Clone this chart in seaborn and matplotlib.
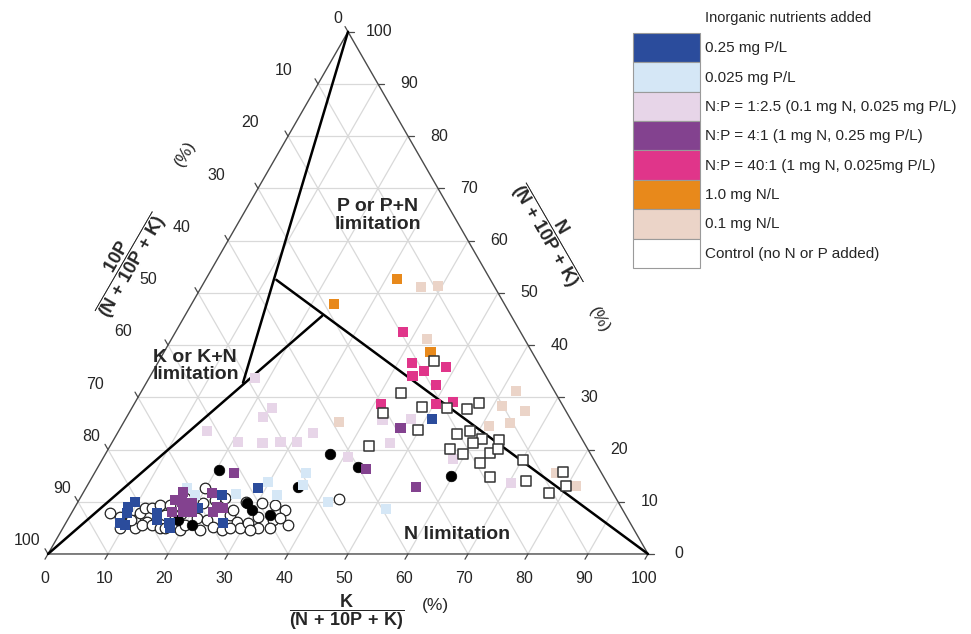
import numpy as np
import pandas as pd
import matplotlib
matplotlib.use("Agg")
import matplotlib.pyplot as plt
from matplotlib.patches import Patch
import seaborn as sns

# ============================================================
# DATA : K and N in %, 10P = 100 - K - N
# ============================================================

# 0.25 mg P/L
p25_k = [51.0, 28.7, 23.3, 20.6, 26.2, 9.5, 9.2, 9.0, 10.0, 14.2, 14.9, 17.3, 17.8, 8.8]
p25_n = [25.9, 12.6, 11.3, 8.8, 5.9, 10.0, 7.9, 5.9, 5.6, 7.9, 6.5, 5.9, 5.0, 9.0]

# 0.025 mg P/L
p025_k = [16.9, 18.9, 25.6, 29.8, 32.5, 35.3, 35.9, 41.7, 52.0]
p025_n = [12.6, 11.3, 11.5, 13.8, 11.3, 15.5, 13.2, 10.0, 8.6]

# N:P = 1:2.5
np125_k = [17.6, 23.3, 22.7, 14.7, 20.9, 25.1, 28.0, 30.7, 32.6, 40.7, 42.9, 47.5, 46.3, 70.4, 58.4]
np125_n = [33.7, 28.0, 26.2, 23.6, 21.5, 21.3, 21.5, 21.5, 23.2, 18.6, 25.7, 25.9, 21.3, 13.6, 18.2]

# N:P = 4:1
np4_k = [46.7, 44.8, 54.9, 23.2, 16.0, 17.3, 16.7, 18.5, 20.0, 19.1, 21.5, 23.7, 24.8, 23.5, 16.6]
np4_n = [24.1, 16.3, 12.8, 15.5, 10.3, 10.0, 8.0, 8.0, 8.0, 9.8, 11.7, 9.0, 8.8, 8.0, 11.9]

# N:P = 40:1
np40_k = [37.9, 42.4, 45.1, 48.4, 43.7, 48.5, 41.1, 50.3, 52.9]
np40_n = [42.5, 36.6, 35.1, 35.8, 34.1, 32.4, 28.7, 28.7, 29.1]

# 1.0 mg N/L
n10_k = [31.8, 23.7, 44.4]
n10_n = [52.7, 47.9, 38.7]

# 0.1 mg N/L
n01_k = [36.6, 39.3, 42.6, 62.4, 61.5, 65.8, 61.2, 64.4, 77.0, 81.5, 35.8]
n01_n = [51.1, 51.3, 41.2, 31.2, 28.4, 27.4, 24.5, 25.1, 15.5, 13.0, 25.3]

# Control (open squares)
ctrl_k = [45.8, 43.4, 42.3, 48.2, 52.5, 55.9, 57.3, 58.5, 56.7, 61.3, 64.3, 60.1, 56.9,
          59.6, 64.0, 64.9, 63.3, 70.2, 66.3, 72.7, 77.9, 79.8, 77.6, 43.1, 49.8]
ctrl_n = [37.0, 30.8, 27.0, 28.2, 28.0, 27.8, 28.9, 23.6, 23.0, 22.0, 21.8, 21.3, 20.1,
          19.2, 19.3, 20.1, 17.4, 18.0, 14.8, 14.0, 15.7, 13.0, 11.7, 20.7, 23.8]

# open circles
ocirc_k = [6.4, 11.3, 11.4, 11.8, 12.9, 13.5, 12.0, 12.9, 14.5, 14.0, 15.8, 16.2, 19.7, 17.5,
           19.9, 20.9, 21.4, 23.3, 24.9, 26.6, 26.6, 28.5, 29.5, 30.3, 31.5, 32.5, 30.8, 34.3,
           35.3, 37.2, 24.2, 22.7, 19.2, 8.5, 10.5, 15.6, 23.0, 26.7, 31.4, 34.5, 35.2, 33.1,
           43.3, 9.5, 17.0, 20.0, 27.8, 18.3, 28.0]
ocirc_n = [7.9, 6.5, 7.9, 8.8, 8.8, 6.1, 5.0, 5.6, 5.6, 9.4, 7.5, 5.0, 4.6, 10.7,
           12.6, 9.8, 6.9, 6.5, 5.2, 7.5, 8.4, 6.1, 5.0, 5.9, 7.1, 5.0, 9.8, 6.5,
           8.4, 5.6, 10.7, 10.3, 9.0, 7.1, 6.5, 9.4, 4.6, 4.6, 4.6, 5.0, 6.9, 9.4,
           10.5, 5.0, 5.0, 5.6, 5.0, 7.6, 9.9]

# black circles
bcirc_k = [20.4, 37.4, 43.3, 59.7, 35.3, 28.3, 29.8, 33.2, 18.4, 21.2]
bcirc_n = [16.1, 19.2, 16.7, 14.9, 12.8, 9.8, 8.4, 7.5, 6.5, 5.6]

# limitation boundaries (K, N)
b1_k, b1_n = [0, 16.1], [100, 32.8]
b2_k, b2_n = [0, 22.9], [0, 45.6]
b3_k, b3_n = [11.8, 100], [52.5, 0]

ticks = list(range(0, 101, 10))

legend_labels = [
    "0.25 mg P/L",
    "0.025 mg P/L",
    "N:P = 1:2.5 (0.1 mg N, 0.025 mg P/L)",
    "N:P = 4:1 (1 mg N, 0.25 mg P/L)",
    "N:P = 40:1 (1 mg N, 0.025mg P/L)",
    "1.0 mg N/L",
    "0.1 mg N/L",
    "Control (no N or P added)",
]
legend_colors = ["#2b4c9c", "#d5e7f6", "#e7d5e8", "#83428f", "#e0358a",
                 "#e8891b", "#ebd4c8", "#ffffff"]

# ============================================================
# STYLE
# ============================================================
sns.set_theme(style="white")
plt.rcParams["font.family"] = ["Liberation Sans", "DejaVu Sans"]
plt.rcParams["mathtext.fontset"] = "custom"
plt.rcParams["mathtext.rm"] = "Liberation Sans"
plt.rcParams["mathtext.bf"] = "Liberation Sans:bold"
plt.rcParams["mathtext.it"] = "Liberation Sans:italic"

H = np.sqrt(3) / 2


def tern(k, n):
    k = np.asarray(k, dtype=float)
    n = np.asarray(n, dtype=float)
    return k + n / 2, n * H


fig = plt.figure(figsize=(9.71, 6.34), dpi=100)
ax = fig.add_axes([0, 0, 1, 1])
ax.set_xlim(-8, 153.83)
ax.set_ylim(-13.27, 91.87)
ax.axis("off")

# ---------- grid ----------
grid_kw = dict(color="#d9d9d9", lw=0.9, zorder=0)
for v in range(10, 100, 10):
    x, y = tern([0, 100 - v], [v, v])
    ax.plot(x, y, **grid_kw)
    x, y = tern([v, v], [0, 100 - v])
    ax.plot(x, y, **grid_kw)
    x, y = tern([100 - v, 0], [0, 100 - v])
    ax.plot(x, y, **grid_kw)

# ---------- triangle frame + ticks ----------
x, y = tern([0, 100, 0, 0], [0, 0, 100, 0])
ax.plot(x, y, color="#4a4a4a", lw=1.0, zorder=1)

tl = 1.0
left_dx = [-10, -34, -38, -42, -46, -50, -45, -43, -17, -16, -21]  # px
for i, v in enumerate(ticks):
    # bottom (K)
    x0, y0 = tern(v, 0)
    ax.plot([x0, x0 - 0.5 * tl], [y0, y0 - H * tl], color="#4a4a4a", lw=0.9)
    ax.text(x0 - 0.6, y0 - 4.0, str(v), ha="center", va="center", fontsize=11.5)
    # right (N)
    x0, y0 = tern(100 - v, v)
    ax.plot([x0, x0 + tl], [y0, y0], color="#4a4a4a", lw=0.9)
    ax.text(x0 + 5.2, y0, str(v), ha="center", va="center", fontsize=11.5)
    # left (10P)
    x0, y0 = tern(0, 100 - v)
    ax.plot([x0, x0 - 0.5 * tl], [y0, y0 + H * tl], color="#4a4a4a", lw=0.9)
    ax.text(x0 + left_dx[i] / 6.0, y0 + 2.2, str(v), ha="center", va="center", fontsize=11.5)

# ---------- limitation boundaries ----------
for bk, bn in [(b1_k, b1_n), (b2_k, b2_n), (b3_k, b3_n)]:
    x, y = tern(bk, bn)
    ax.plot(x, y, color="black", lw=1.8, zorder=2)

# ---------- points ----------
sq_sets = [
    (p25_k, p25_n, 0), (p025_k, p025_n, 1), (np125_k, np125_n, 2),
    (np4_k, np4_n, 3), (np40_k, np40_n, 4), (n10_k, n10_n, 5), (n01_k, n01_n, 6),
]
rows = []
for kk, nn, gi in sq_sets:
    for k, n in zip(kk, nn):
        rows.append((legend_labels[gi], k, n))
pts = pd.DataFrame(rows, columns=["group", "K", "N"])
pts["x"], pts["y"] = tern(pts["K"], pts["N"])

ox, oy = tern(ocirc_k, ocirc_n)
sns.scatterplot(x=ox, y=oy, marker="o", s=58, color="white", edgecolor="#222222",
                linewidth=0.9, legend=False, ax=ax, zorder=3)

bx, by = tern(bcirc_k, bcirc_n)
sns.scatterplot(x=bx, y=by, marker="o", s=58, color="black", edgecolor="black",
                linewidth=0.5, legend=False, ax=ax, zorder=3.5)

sns.scatterplot(data=pts, x="x", y="y", hue="group", marker="s", s=55,
                palette=dict(zip(legend_labels, legend_colors)),
                linewidth=0, legend=False, ax=ax, zorder=4)

cx, cy = tern(ctrl_k, ctrl_n)
sns.scatterplot(x=cx, y=cy, marker="s", s=46, color="white", edgecolor="#333333",
                linewidth=1.1, legend=False, ax=ax, zorder=4)

# ---------- region labels ----------
ax.text(55.0, 56.1, "P or P+N\nlimitation", ha="center", va="center",
        fontsize=14, fontweight="bold", linespacing=1.05)
ax.text(17.5, 31.2, "K or K+N\nlimitation", ha="left", va="center",
        fontsize=14, fontweight="bold", linespacing=1.05)
ax.text(68.2, 3.2, "N limitation", ha="center", va="center",
        fontsize=14, fontweight="bold")

# ---------- axis titles ----------
den = r"\mathbf{(N\,+\,10P\,+\,K)}"
ax.text(49.8, -9.6, r"$\dfrac{\mathbf{K}}{" + den + "}$",
        ha="center", va="center", fontsize=13)
ax.text(64.6, -8.6, "(%)", ha="center", va="center", fontsize=12.5)

ax.text(84.0, 53.4, r"$\dfrac{\mathbf{N}}{" + den + "}$",
        ha="center", va="center", fontsize=13, rotation=-60)
ax.text(91.9, 38.8, "(%)", ha="center", va="center", fontsize=12.5, rotation=-60)

ax.text(13.0, 48.4, r"$\dfrac{\mathbf{10P}}{" + den + "}$",
        ha="center", va="center", fontsize=13, rotation=60)
ax.text(22.9, 66.4, "(%)", ha="center", va="center", fontsize=12.5, rotation=60)

# ---------- legend ----------
handles = [Patch(facecolor=c, edgecolor="#9a9a9a", linewidth=0.8) for c in legend_colors]
fig.text(705 / 971, 1 - 18 / 634, "Inorganic nutrients added", fontsize=10.5,
         ha="left", va="center")
fig.legend(handles, legend_labels, loc="upper left",
           bbox_to_anchor=(633 / 971, 1 - 33 / 634), frameon=False,
           fontsize=11, handlelength=4.4, handleheight=2.58, labelspacing=0,
           handletextpad=0.3, borderpad=0, borderaxespad=0)

fig.savefig("out.png", dpi=100)
